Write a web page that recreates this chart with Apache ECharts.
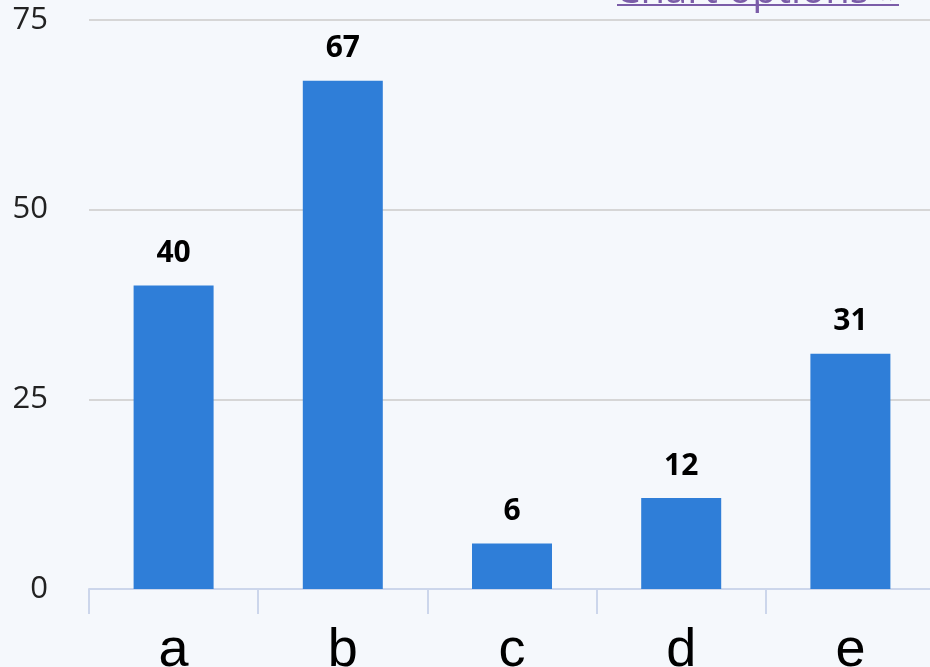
<!DOCTYPE html>
<html>
<head>
<meta charset="utf-8">
<script src="https://cdn.jsdelivr.net/npm/echarts@6/dist/echarts.min.js"></script>
<style>
  html, body { margin: 0; padding: 0; background: #f5f8fc; }
  #chart { width: 930px; height: 667px; }
</style>
</head>
<body>
<div id="chart"></div>
<script>
// data
const categories = ['a', 'b', 'c', 'd', 'e'];
const values = [40, 67, 6, 12, 31];
const yTicks = [0, 25, 50, 75];

const chart = echarts.init(document.getElementById('chart'));

let option = {
  animation: false,
  backgroundColor: '#f5f8fc',
  grid: {
    left: 89,
    width: 846,
    top: 20,
    height: 569,
    outerBoundsMode: 'none',
    containLabel: false,
  },
  xAxis: {
    type: 'category',
    data: categories,
    axisLine: {
      lineStyle: { color: '#ccd6eb', width: 2 },
    },
    axisTick: {
      show: true,
      length: 25,
      lineStyle: { color: '#ccd6eb', width: 2 },
    },
    axisLabel: {
      fontFamily: 'Liberation Sans',
      fontSize: 54,
      color: '#000',
      margin: 35,
    },
  },
  yAxis: {
    type: 'value',
    min: yTicks[0],
    max: yTicks[yTicks.length - 1],
    interval: 25,
    axisLine: { show: false },
    axisTick: { show: false },
    splitLine: {
      lineStyle: { color: '#d6d6d6', width: 2 },
    },
    axisLabel: {
      fontFamily: 'Open Sans',
      fontSize: 31,
      color: '#222',
      margin: 41,
    },
  },
  series: [
    {
      type: 'bar',
      data: values,
      barWidth: 80,
      itemStyle: { color: '#2f7ed8' },
      label: {
        show: true,
        position: 'top',
        distance: 17,
        fontFamily: 'Open Sans',
        fontWeight: 'bold',
        fontSize: 30,
        color: '#000',
      },
    },
  ],
  // "Chart options »" link, cut off at top
  graphic: [
    {
      type: 'text',
      right: 31,
      top: -28,
      style: {
        text: 'Chart options »',
        fontFamily: 'Open Sans',
        fontSize: 40,
        fill: '#7b5da8',
      },
    },
    {
      type: 'line',
      shape: { x1: 617, y1: 5, x2: 899, y2: 5 },
      style: { stroke: '#7b5da8', lineWidth: 2 },
    },
  ],
};

chart.setOption(option);
window.addEventListener('resize', () => {
  chart.resize();
});
</script>
</body>
</html>
